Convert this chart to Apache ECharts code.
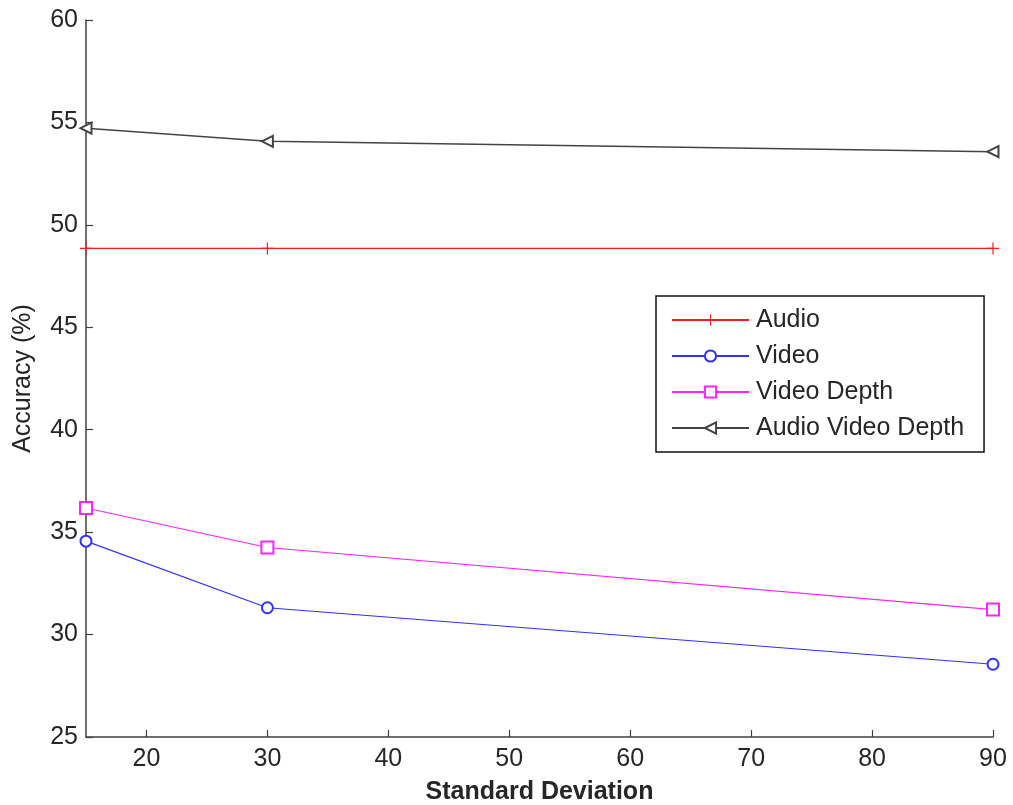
<!DOCTYPE html>
<html>
<head>
<meta charset="utf-8">
<script src="https://cdn.jsdelivr.net/npm/echarts@6/dist/echarts.min.js"></script>
<style>html,body{margin:0;padding:0;background:#fff}#c{width:1013px;height:805px}</style>
</head>
<body>
<div id="c"></div>
<script>
const xValues = [15, 30, 90];
const audio = [48.85, 48.85, 48.85];
const video = [34.56, 31.31, 28.55];
const videoDepth = [36.18, 34.25, 31.22];
const audioVideoDepth = [54.72, 54.08, 53.57];
const xTicks = [20, 30, 40, 50, 60, 70, 80, 90];
const seriesNames = ['Audio', 'Video', 'Video Depth', 'Audio Video Depth'];

const pairs = arr => xValues.map((x, i) => [x, arr[i]]);
const font = 'Liberation Sans, Arial, sans-serif';
const txt = '#262626';
const axisCol = '#404040';
const plus = 'path://M0,5.4H12V6.6H0Z M5.4,0H6.6V12H5.4Z';

const chart = echarts.init(document.getElementById('c'));
chart.setOption({
  animation: false,
  textStyle: { fontFamily: font },
  grid: { left: 86, right: 20, top: 20, bottom: 68, containLabel: false, outerBoundsMode: 'none' },
  legend: {
    orient: 'vertical', left: 656, top: 296,
    data: seriesNames,
    itemWidth: 77, itemHeight: 14, itemGap: 10,
    padding: [11, 20, 11, 15],
    borderColor: '#111', borderWidth: 1.5,
    textStyle: { fontSize: 25, lineHeight: 26, color: txt, fontFamily: font, padding: [0, 0, 0, 2] }
  },
  xAxis: {
    type: 'value', min: 15, max: 90,
    name: 'Standard Deviation', nameLocation: 'middle', nameGap: 43,
    nameTextStyle: { fontSize: 25, fontWeight: 'bold', color: txt },
    axisLine: { show: true, onZero: false, lineStyle: { color: axisCol, width: 1.5 } },
    axisTick: { show: true, inside: true, length: 7, customValues: xTicks, lineStyle: { color: axisCol, width: 1.2 } },
    axisLabel: { customValues: xTicks, fontSize: 25, color: txt, margin: 10 },
    splitLine: { show: false }
  },
  yAxis: {
    type: 'value', min: 25, max: 60, interval: 5,
    name: 'Accuracy (%)', nameLocation: 'middle', nameGap: 50,
    nameTextStyle: { fontSize: 25, color: txt },
    axisLine: { show: true, onZero: false, lineStyle: { color: axisCol, width: 1.5 } },
    axisTick: { show: true, inside: true, length: 7, lineStyle: { color: axisCol, width: 1.2 } },
    axisLabel: { fontSize: 25, color: txt, margin: 8 },
    splitLine: { show: false }
  },
  series: [
    { name: seriesNames[0], type: 'line', data: pairs(audio), symbol: plus, symbolSize: 12,
      lineStyle: { color: '#ff1a1a', width: 1.2 }, itemStyle: { color: '#ff1a1a' } },
    { name: seriesNames[1], type: 'line', data: pairs(video), symbol: 'emptyCircle', symbolSize: 11,
      lineStyle: { color: '#3030ff', width: 1.2 }, itemStyle: { color: '#3030ff', borderWidth: 1.2 } },
    { name: seriesNames[2], type: 'line', data: pairs(videoDepth), symbol: 'emptyRect', symbolSize: 12,
      lineStyle: { color: '#ff22ff', width: 1.2 }, itemStyle: { color: '#ff22ff', borderWidth: 1.2 } },
    { name: seriesNames[3], type: 'line', data: pairs(audioVideoDepth), symbol: 'emptyTriangle', symbolSize: 11, symbolRotate: 90,
      lineStyle: { color: '#444', width: 1.5 }, itemStyle: { color: '#444', borderWidth: 1.2 } }
  ]
});
</script>
</body>
</html>
